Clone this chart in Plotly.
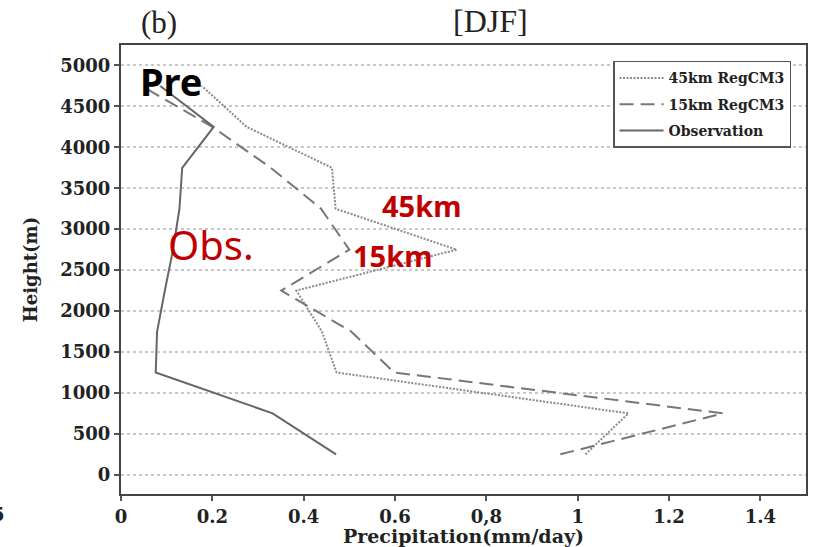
import plotly.graph_objects as go

heights = [250, 750, 1250, 1750, 2250, 2750, 3250, 3750, 4250, 4750]
obs = [0.471, 0.332, 0.076, 0.079, 0.096, 0.114, 0.128, 0.134, 0.203, 0.086]
km45 = [1.017, 1.111, 0.472, 0.440, 0.384, 0.735, 0.470, 0.462, 0.275, 0.177]
km15 = [0.962, 1.318, 0.598, 0.504, 0.351, 0.500, 0.438, 0.328, 0.200, 0.045]

xticks = [0, 0.2, 0.4, 0.6, 0.8, 1, 1.2, 1.4]
xticklabels = ["0", "0.2", "0.4", "0.6", "0,8", "1", "1.2", "1.4"]
yticks = list(range(0, 5001, 500))

serif_b = "DejaVu Serif"
fig = go.Figure()
fig.add_trace(go.Scatter(x=km45, y=heights, mode="lines", name="45km RegCM3",
                         legendgroup="a",
                         line=dict(color="#8a8a8a", width=2, dash="2px,1.5px")))
fig.add_trace(go.Scatter(x=km15, y=heights, mode="lines", name="15km RegCM3",
                         legendgroup="b",
                         line=dict(color="#777777", width=2, dash="14px,7px")))
fig.add_trace(go.Scatter(x=obs, y=heights, mode="lines", name="Observation",
                         legendgroup="c",
                         line=dict(color="#666666", width=2)))

axis_common = dict(showline=True, linecolor="#444444", linewidth=2, mirror=True,
                   ticks="outside", ticklen=5, tickcolor="#555555", tickwidth=1.5,
                   zeroline=False,
                   tickfont=dict(family=serif_b, size=18, color="#222222", weight="bold"))

fig.update_xaxes(range=[0, 1.5], tickvals=xticks, ticktext=xticklabels, showgrid=False,
                 title=dict(text="Precipitation(mm/day)", standoff=1,
                            font=dict(family=serif_b, size=19, color="#222222", weight="bold")),
                 **axis_common)
fig.update_yaxes(range=[-235, 5250], tickvals=yticks, showgrid=True,
                 gridcolor="#c8c8c8", gridwidth=1.5, griddash="dot",
                 title=dict(text="Height(m)", standoff=18,
                            font=dict(family=serif_b, size=18, color="#222222", weight="bold")),
                 **axis_common)

ann = []
ann.append(dict(text="<b>Pre</b>", x=0.11, y=4814, xref="x", yref="y", showarrow=False,
                font=dict(family="Noto Sans", size=38, color="#000000")))
ann.append(dict(text="<b>45km</b>", x=0.657, y=3285, xref="x", yref="y", showarrow=False,
                font=dict(family="Noto Sans", size=29, color="#c00000")))
ann.append(dict(text="<b>15km</b>", x=0.594, y=2676, xref="x", yref="y", showarrow=False,
                font=dict(family="Noto Sans", size=29, color="#c00000")))
ann.append(dict(text="Obs.", x=0.198, y=2819, xref="x", yref="y", showarrow=False,
                font=dict(family="Noto Sans", size=40, color="#c00000")))
ann.append(dict(text="(b)", x=(159 - 121) / 687, y=(496 - 22) / 451, xref="paper", yref="paper",
                xanchor="center", yanchor="middle",
                showarrow=False, font=dict(family="Liberation Serif", size=31, color="#222222")))
ann.append(dict(text="[DJF]", x=(492 - 121) / 687, y=(496 - 21) / 451, xref="paper", yref="paper",
                xanchor="center", yanchor="middle",
                showarrow=False, font=dict(family="Liberation Serif", size=32, color="#222222")))
ann.append(dict(text="5", x=(7 - 121) / 687, y=(496 - 517) / 451, xref="paper", yref="paper",
                xanchor="right", yanchor="middle", showarrow=False,
                font=dict(family=serif_b, size=18, color="#222222", weight="bold")))

fig.update_layout(
    width=814, height=547,
    margin=dict(l=121, r=6, t=45, b=51),
    paper_bgcolor="white", plot_bgcolor="white",
    annotations=ann,
    showlegend=True,
    legend=dict(x=(793 - 121) / 687, y=(496 - 61) / 451, xanchor="right", yanchor="top",
                bgcolor="white", bordercolor="#555555", borderwidth=1.5,
                tracegroupgap=5, itemwidth=44,
                font=dict(family=serif_b, size=14, color="#222222", weight="bold")),
)

fig.write_html("out.html")
